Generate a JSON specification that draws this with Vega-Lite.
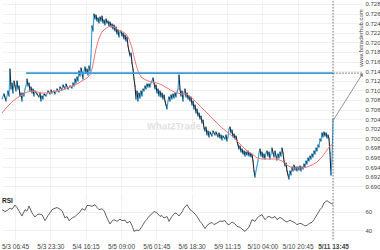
{
  "$schema": "https://vega.github.io/schema/vega-lite/v6.json",
  "padding": 0,
  "background": "white",
  "spacing": 0,
  "config": {
    "view": {"stroke": null},
    "font": "Liberation Sans",
    "axis": {"gridColor": "#ececec", "gridWidth": 0.8, "labelFont": "Liberation Sans", "domain": false, "ticks": false, "labelFontSize": 6.5, "labelColor": "#444"}
  },
  "datasets": {
    "price": [
      {"i":0,"p":0.70821},{"i":2,"p":0.70925},{"i":4,"p":0.70779},{"i":6,"p":0.70988},{"i":7,"p":0.70883},{"i":8,"p":0.71446},{"i":9,"p":0.71029},{"i":10,"p":0.71154},{"i":11,"p":0.70946},{"i":12,"p":0.71196},{"i":13,"p":0.71092},{"i":14,"p":0.70988},{"i":15,"p":0.71196},{"i":16,"p":0.71029},{"i":17,"p":0.71092},{"i":18,"p":0.70883},{"i":19,"p":0.70946},{"i":20,"p":0.70779},{"i":21,"p":0.70946},{"i":22,"p":0.70883},{"i":23,"p":0.71029},{"i":24,"p":0.71092},{"i":25,"p":0.71238},{"i":26,"p":0.71092},{"i":27,"p":0.71154},{"i":28,"p":0.70988},{"i":29,"p":0.71071},{"i":30,"p":0.70946},{"i":31,"p":0.71029},{"i":32,"p":0.70883},{"i":33,"p":0.70988},{"i":35,"p":0.70925},{"i":37,"p":0.70863},{"i":38,"p":0.70946},{"i":39,"p":0.70779},{"i":40,"p":0.70883},{"i":41,"p":0.70821},{"i":42,"p":0.70925},{"i":44,"p":0.70883},{"i":46,"p":0.70988},{"i":48,"p":0.70925},{"i":49,"p":0.71008},{"i":50,"p":0.70946},{"i":52,"p":0.70988},{"i":53,"p":0.70925},{"i":55,"p":0.71029},{"i":57,"p":0.70967},{"i":58,"p":0.71071},{"i":60,"p":0.71008},{"i":61,"p":0.71113},{"i":63,"p":0.71029},{"i":64,"p":0.71133},{"i":66,"p":0.71029},{"i":68,"p":0.71092},{"i":70,"p":0.71050},{"i":71,"p":0.71154},{"i":72,"p":0.71092},{"i":73,"p":0.71238},{"i":74,"p":0.71154},{"i":75,"p":0.71279},{"i":76,"p":0.71196},{"i":77,"p":0.71404},{"i":78,"p":0.71300},{"i":79,"p":0.71467},{"i":80,"p":0.71363},{"i":81,"p":0.71238},{"i":82,"p":0.71404},{"i":83,"p":0.71488},{"i":84,"p":0.71363},{"i":85,"p":0.71446},{"i":86,"p":0.71321},{"i":87,"p":0.71508},{"i":88,"p":0.71404},{"i":89,"p":0.71717},{"i":90,"p":0.72342},{"i":91,"p":0.72238},{"i":92,"p":0.72592},
      {"i":93,"p":0.72488},{"i":94,"p":0.72571},{"i":95,"p":0.72446},{"i":96,"p":0.72508},{"i":97,"p":0.72404},{"i":98,"p":0.72529},{"i":99,"p":0.72446},{"i":100,"p":0.72550},{"i":101,"p":0.72404},{"i":102,"p":0.72467},{"i":103,"p":0.72363},{"i":104,"p":0.72488},{"i":105,"p":0.72404},{"i":106,"p":0.72446},{"i":107,"p":0.72342},{"i":108,"p":0.72425},{"i":109,"p":0.72321},{"i":110,"p":0.72383},{"i":111,"p":0.72279},{"i":112,"p":0.72363},{"i":113,"p":0.72238},{"i":114,"p":0.72321},{"i":115,"p":0.72175},{"i":116,"p":0.72258},{"i":117,"p":0.72113},{"i":118,"p":0.72217},{"i":119,"p":0.72238},{"i":120,"p":0.72133},{"i":121,"p":0.72196},{"i":122,"p":0.72071},{"i":123,"p":0.72154},{"i":124,"p":0.72029},{"i":125,"p":0.72113},{"i":126,"p":0.71925},{"i":127,"p":0.71821},{"i":128,"p":0.71717},{"i":129,"p":0.71779},{"i":130,"p":0.71571},{"i":131,"p":0.71446},{"i":132,"p":0.71238},{"i":133,"p":0.71092},{"i":134,"p":0.70821},{"i":135,"p":0.70988},{"i":136,"p":0.70779},{"i":137,"p":0.70946},{"i":138,"p":0.70842},{"i":139,"p":0.70988},{"i":140,"p":0.70883},{"i":141,"p":0.71029},{"i":142,"p":0.70988},{"i":143,"p":0.71092},{"i":144,"p":0.71029},{"i":145,"p":0.71133},{"i":146,"p":0.71071},{"i":147,"p":0.71133},{"i":148,"p":0.71071},{"i":149,"p":0.71154},{"i":150,"p":0.71196},{"i":151,"p":0.71258},{"i":152,"p":0.71154},{"i":153,"p":0.71029},{"i":154,"p":0.71113},{"i":155,"p":0.70946},{"i":156,"p":0.71029},{"i":157,"p":0.70883},{"i":158,"p":0.70988},{"i":159,"p":0.70863},{"i":160,"p":0.70946},{"i":161,"p":0.70821},{"i":162,"p":0.70904},{"i":163,"p":0.70779},{"i":164,"p":0.70696},{"i":165,"p":0.70613},{"i":166,"p":0.70779},{"i":167,"p":0.70863},{"i":168,"p":0.70779},{"i":169,"p":0.70904},{"i":170,"p":0.70821},{"i":171,"p":0.70925},{"i":172,"p":0.70842},{"i":173,"p":0.70946},{"i":174,"p":0.70863},{"i":175,"p":0.70967},{"i":176,"p":0.71029},{"i":177,"p":0.71321},{"i":178,"p":0.71029},{"i":179,"p":0.70883},{"i":180,"p":0.70988},{"i":181,"p":0.70779},{"i":182,"p":0.70946},{"i":183,"p":0.71029},{"i":184,"p":0.70863},{"i":185,"p":0.70946},{"i":186,"p":0.70821},{"i":187,"p":0.70883},
      {"i":188,"p":0.70779},{"i":189,"p":0.70863},{"i":190,"p":0.70696},{"i":191,"p":0.70779},{"i":192,"p":0.70613},{"i":193,"p":0.70696},{"i":194,"p":0.70529},{"i":195,"p":0.70613},{"i":196,"p":0.70467},{"i":197,"p":0.70529},{"i":198,"p":0.70404},{"i":199,"p":0.70467},{"i":200,"p":0.70321},{"i":201,"p":0.70383},{"i":202,"p":0.70217},{"i":203,"p":0.70154},{"i":204,"p":0.70238},{"i":205,"p":0.70071},{"i":206,"p":0.70154},{"i":207,"p":0.70029},{"i":208,"p":0.70133},{"i":210,"p":0.70050},{"i":211,"p":0.70154},{"i":213,"p":0.70071},{"i":214,"p":0.70133},{"i":216,"p":0.70029},{"i":217,"p":0.70113},{"i":218,"p":0.70008},{"i":219,"p":0.70071},{"i":220,"p":0.69967},{"i":221,"p":0.70050},{"i":223,"p":0.69988},{"i":224,"p":0.70071},{"i":225,"p":0.69946},{"i":226,"p":0.70029},{"i":227,"p":0.70196},{"i":228,"p":0.70238},{"i":229,"p":0.70113},{"i":230,"p":0.70175},{"i":231,"p":0.70029},{"i":232,"p":0.70092},{"i":233,"p":0.69988},{"i":234,"p":0.70050},{"i":235,"p":0.69946},{"i":236,"p":0.69863},{"i":237,"p":0.69779},{"i":238,"p":0.69842},{"i":239,"p":0.69717},{"i":240,"p":0.69779},{"i":241,"p":0.69675},{"i":242,"p":0.69738},{"i":243,"p":0.69633},{"i":244,"p":0.69717},{"i":245,"p":0.69654},{"i":246,"p":0.69738},{"i":247,"p":0.69633},{"i":248,"p":0.69696},{"i":249,"p":0.69613},{"i":250,"p":0.69675},{"i":251,"p":0.69529},{"i":252,"p":0.69321},{"i":253,"p":0.69196},{"i":254,"p":0.69321},{"i":255,"p":0.69425},{"i":256,"p":0.69529},{"i":257,"p":0.69696},{"i":258,"p":0.69779},
      {"i":259,"p":0.69633},{"i":260,"p":0.69717},{"i":261,"p":0.69592},{"i":262,"p":0.69675},{"i":263,"p":0.69571},{"i":264,"p":0.69696},{"i":265,"p":0.69738},{"i":266,"p":0.69633},{"i":267,"p":0.69717},{"i":268,"p":0.69571},{"i":269,"p":0.69675},{"i":270,"p":0.69800},{"i":271,"p":0.69696},{"i":272,"p":0.69613},{"i":273,"p":0.69738},{"i":274,"p":0.69633},{"i":275,"p":0.69550},{"i":276,"p":0.69675},{"i":277,"p":0.69592},{"i":278,"p":0.69717},{"i":279,"p":0.69633},{"i":280,"p":0.69800},{"i":281,"p":0.69696},{"i":282,"p":0.69529},{"i":283,"p":0.69425},{"i":284,"p":0.69488},{"i":285,"p":0.69321},{"i":286,"p":0.69238},{"i":287,"p":0.69154},{"i":288,"p":0.69321},{"i":289,"p":0.69238},{"i":290,"p":0.69404},{"i":291,"p":0.69321},{"i":292,"p":0.69446},{"i":293,"p":0.69342},{"i":294,"p":0.69404},{"i":295,"p":0.69321},{"i":296,"p":0.69404},{"i":297,"p":0.69342},{"i":298,"p":0.69425},{"i":299,"p":0.69321},{"i":300,"p":0.69404},{"i":301,"p":0.69363},{"i":302,"p":0.69467},{"i":303,"p":0.69404},{"i":304,"p":0.69529},{"i":305,"p":0.69467},{"i":306,"p":0.69592},{"i":307,"p":0.69529},{"i":308,"p":0.69633},{"i":309,"p":0.69571},{"i":310,"p":0.69675},{"i":311,"p":0.69613},{"i":312,"p":0.69738},{"i":313,"p":0.69675},{"i":314,"p":0.69800},{"i":315,"p":0.69738},{"i":316,"p":0.69863},{"i":317,"p":0.69821},{"i":318,"p":0.69988},{"i":319,"p":0.69946},{"i":320,"p":0.70113},{"i":321,"p":0.70029},{"i":322,"p":0.70133},{"i":323,"p":0.70050},{"i":324,"p":0.70113},{"i":325,"p":0.70008},{"i":326,"p":0.70071},{"i":327,"p":0.69988},{"i":328,"p":0.69696},{"i":329,"p":0.69238},{"i":330,"p":0.69529},{"i":331,"p":0.70404}
    ],
    "ma": [
      {"i":0,"p":0.70529},{"i":5,"p":0.70654},{"i":10,"p":0.70758},{"i":15,"p":0.70842},{"i":20,"p":0.70904},{"i":25,"p":0.70967},{"i":30,"p":0.70988},{"i":35,"p":0.70967},{"i":40,"p":0.70946},{"i":45,"p":0.70946},{"i":50,"p":0.70967},{"i":55,"p":0.70988},{"i":60,"p":0.71008},{"i":65,"p":0.71050},{"i":70,"p":0.71092},{"i":75,"p":0.71133},{"i":80,"p":0.71196},{"i":85,"p":0.71258},{"i":88,"p":0.71321},{"i":90,"p":0.71446},{"i":92,"p":0.71654},{"i":94,"p":0.71863},{"i":96,"p":0.72029},{"i":98,"p":0.72133},{"i":100,"p":0.72217},{"i":103,"p":0.72279},{"i":106,"p":0.72321},{"i":109,"p":0.72342},{"i":112,"p":0.72321},{"i":115,"p":0.72279},{"i":118,"p":0.72238},{"i":121,"p":0.72217},{"i":124,"p":0.72175},{"i":127,"p":0.72071},{"i":130,"p":0.71883},{"i":133,"p":0.71613},{"i":136,"p":0.71404},{"i":139,"p":0.71279},{"i":142,"p":0.71238},{"i":146,"p":0.71196},{"i":150,"p":0.71175},{"i":155,"p":0.71154},{"i":160,"p":0.71113},{"i":165,"p":0.71050},{"i":170,"p":0.70988},{"i":175,"p":0.70946},{"i":180,"p":0.70925},{"i":185,"p":0.70925},{"i":190,"p":0.70842},{"i":195,"p":0.70738},{"i":200,"p":0.70633},{"i":205,"p":0.70529},{"i":210,"p":0.70425},{"i":215,"p":0.70321},{"i":220,"p":0.70217},{"i":225,"p":0.70133},{"i":230,"p":0.70050},{"i":235,"p":0.69946},{"i":240,"p":0.69842},{"i":245,"p":0.69738},{"i":250,"p":0.69675},{"i":255,"p":0.69592},{"i":260,"p":0.69571},{"i":265,"p":0.69571},{"i":270,"p":0.69571},{"i":275,"p":0.69571},{"i":280,"p":0.69529},{"i":285,"p":0.69446},{"i":290,"p":0.69383},{"i":295,"p":0.69383},{"i":300,"p":0.69383},{"i":305,"p":0.69404},{"i":310,"p":0.69446},{"i":315,"p":0.69508},{"i":320,"p":0.69613},{"i":325,"p":0.69758},{"i":328,"p":0.69842},{"i":331,"p":0.69883}
    ],
    "rsi": [
      {"i":0,"r":62.6},{"i":3,"r":60.5},{"i":5,"r":61.5},{"i":8,"r":64.4},{"i":10,"r":63},{"i":13,"r":67.6},{"i":15,"r":65},{"i":17,"r":61},{"i":20,"r":55.5},{"i":23,"r":62.6},{"i":25,"r":61},{"i":27,"r":66.6},{"i":30,"r":59},{"i":33,"r":54.4},{"i":35,"r":57},{"i":37,"r":57.7},{"i":40,"r":57},{"i":43,"r":50.4},{"i":46,"r":56},{"i":48,"r":59},{"i":50,"r":62.5},{"i":52,"r":63.7},{"i":55,"r":65},{"i":57,"r":63.7},{"i":60,"r":61.5},{"i":63,"r":53.3},{"i":65,"r":55},{"i":67,"r":50.4},{"i":70,"r":53.3},{"i":73,"r":55},{"i":75,"r":57},{"i":78,"r":60},{"i":80,"r":63.7},{"i":83,"r":62},{"i":85,"r":67.4},{"i":88,"r":67},{"i":90,"r":66.3},{"i":93,"r":68.1},{"i":95,"r":65},{"i":97,"r":62.6},{"i":100,"r":63.5},{"i":102,"r":61.5},{"i":105,"r":53.3},{"i":108,"r":46.7},{"i":110,"r":50},{"i":112,"r":51.5},{"i":115,"r":49.6},{"i":118,"r":52},{"i":120,"r":50.4},{"i":123,"r":51},{"i":125,"r":47.8},{"i":128,"r":49.6},{"i":130,"r":45},{"i":132,"r":38.5},{"i":135,"r":40},{"i":137,"r":39.2},{"i":140,"r":44.1},{"i":143,"r":49.6},{"i":145,"r":52},{"i":147,"r":55.2},{"i":150,"r":58},{"i":152,"r":60.7},{"i":155,"r":59},{"i":158,"r":55.2},{"i":160,"r":56},{"i":162,"r":53.3},{"i":165,"r":55},{"i":167,"r":49.6},{"i":170,"r":55.2},{"i":173,"r":59},{"i":175,"r":58},{"i":177,"r":55.5},{"i":180,"r":60},{"i":182,"r":64.4},{"i":185,"r":68.1},{"i":188,"r":62.6},{"i":190,"r":61},{"i":193,"r":57.8},{"i":195,"r":55},{"i":198,"r":49.6},{"i":200,"r":47},{"i":203,"r":41.5},{"i":205,"r":45},{"i":207,"r":46.7},{"i":210,"r":48.5},{"i":212,"r":46},{"i":215,"r":47.8},{"i":218,"r":50},{"i":220,"r":49.6},{"i":223,"r":50.4},{"i":225,"r":47},{"i":227,"r":45.9},{"i":230,"r":48.9},{"i":233,"r":46.7},{"i":235,"r":44},{"i":238,"r":43},{"i":240,"r":41},{"i":243,"r":38.5},{"i":245,"r":41},{"i":247,"r":43},{"i":250,"r":51.5},{"i":253,"r":49.6},{"i":255,"r":53},{"i":257,"r":55.2},{"i":260,"r":57},{"i":263,"r":51.5},{"i":265,"r":54},{"i":267,"r":55.2},{"i":270,"r":53.3},{"i":273,"r":55},{"i":275,"r":51.5},{"i":278,"r":54},{"i":280,"r":52.6},{"i":283,"r":50},{"i":285,"r":48.9},{"i":288,"r":51},{"i":290,"r":49.6},{"i":293,"r":48},{"i":295,"r":45.9},{"i":298,"r":47.5},{"i":300,"r":46.7},{"i":303,"r":44.5},{"i":305,"r":45.2},{"i":308,"r":47.8},{"i":310,"r":48.5},{"i":312,"r":51.5},{"i":315,"r":57},{"i":318,"r":62.6},{"i":320,"r":65},{"i":322,"r":70},{"i":325,"r":72.6},{"i":327,"r":71},{"i":330,"r":68.9},{"i":331,"r":69}
    ]
  },
  "vconcat": [
    {
      "width": 361,
      "height": 190,
      "layer": [
        {
          "data": {"name": "price"},
          "transform": [
            {"window": [{"op": "lead", "field": "p", "as": "p2"}, {"op": "lead", "field": "i", "as": "i2"}], "sort": [{"field": "i", "order": "ascending"}]},
            {"filter": "datum.p2 != null"}
          ],
          "mark": {"type": "rule", "strokeWidth": 1.1, "strokeCap": "round"},
          "encoding": {
            "x": {"field": "i", "type": "quantitative", "scale": {"domain": [0, 361], "nice": false, "zero": false},
                  "axis": {"values": [13, 48.33, 83.67, 119, 154.33, 189.67, 225, 260.33, 295.67, 331], "tickCount": 50, "labels": false, "grid": true, "title": null}},
            "x2": {"field": "i2"},
            "y": {"field": "p", "type": "quantitative", "scale": {"domain": [0.68904, 0.728625], "nice": false, "zero": false},
                  "axis": {"orient": "right", "values": [0.690, 0.692, 0.694, 0.696, 0.698, 0.700, 0.702, 0.704, 0.706, 0.708, 0.710, 0.712, 0.714, 0.716, 0.718, 0.720, 0.722, 0.724, 0.726, 0.728], "tickCount": 50, "format": ".3f", "labelPadding": 2, "labelFontSize": 6, "labelOverlap": false, "labelBound": false, "labelFlush": false, "grid": true, "title": null}},
            "y2": {"field": "p2"},
            "color": {"condition": {"test": "datum.p2 < datum.p", "value": "#1c2630"}, "value": "#2e9ddc"}
          }
        },
        {
          "data": {"name": "ma"},
          "mark": {"type": "line", "color": "#f47575", "strokeWidth": 1},
          "encoding": {
            "x": {"field": "i", "type": "quantitative"},
            "y": {"field": "p", "type": "quantitative"}
          }
        },
        {
          "data": {"values": [{"i": 24, "i2": 331, "p": 0.7136}]},
          "mark": {"type": "rule", "color": "#3d9ad9", "strokeWidth": 1.6},
          "encoding": {
            "x": {"field": "i", "type": "quantitative"},
            "x2": {"field": "i2"},
            "y": {"field": "p", "type": "quantitative"}
          }
        },
        {
          "data": {"values": [{"i": 331, "i2": 361, "p": 0.7136}]},
          "mark": {"type": "rule", "color": "#666", "strokeWidth": 0.8, "strokeDash": [2, 1]},
          "encoding": {
            "x": {"field": "i", "type": "quantitative"},
            "x2": {"field": "i2"},
            "y": {"field": "p", "type": "quantitative"}
          }
        },
        {
          "data": {"values": [{"i": 331, "p": 0.7037, "i2": 360, "p2": 0.7133}]},
          "mark": {"type": "rule", "color": "#777", "strokeWidth": 0.8},
          "encoding": {
            "x": {"field": "i", "type": "quantitative"},
            "x2": {"field": "i2"},
            "y": {"field": "p", "type": "quantitative"},
            "y2": {"field": "p2"}
          }
        },
        {
          "data": {"values": [{"i": 360, "p": 0.7133}]},
          "mark": {"type": "point", "shape": "triangle-up", "filled": true, "color": "#777", "size": 14, "angle": 33, "opacity": 1},
          "encoding": {
            "x": {"field": "i", "type": "quantitative"},
            "y": {"field": "p", "type": "quantitative"}
          }
        },
        {
          "data": {"values": [{"i": 331}]},
          "mark": {"type": "rule", "color": "#555", "strokeWidth": 0.8, "strokeDash": [1.5, 1.5]},
          "encoding": {
            "x": {"field": "i", "type": "quantitative"}
          }
        },
        {
          "data": {"values": [{"i": 172, "p": 0.70258, "t": "What2Trade"}]},
          "mark": {"type": "text", "fontSize": 9.5, "fontWeight": "bold", "color": "#e2e2e2", "align": "center", "baseline": "middle"},
          "encoding": {
            "x": {"field": "i", "type": "quantitative"},
            "y": {"field": "p", "type": "quantitative"},
            "text": {"field": "t"}
          }
        },
        {
          "data": {"values": [{"i": 359, "p": 0.72092, "t": "www.fxtraderhub.com"}]},
          "mark": {"type": "text", "fontSize": 6, "color": "#444", "angle": 270, "align": "center", "baseline": "middle"},
          "encoding": {
            "x": {"field": "i", "type": "quantitative"},
            "y": {"field": "p", "type": "quantitative"},
            "text": {"field": "t"}
          }
        }
      ]
    },
    {
      "width": 361,
      "height": 47,
      "layer": [
        {
          "data": {"name": "rsi"},
          "mark": {"type": "line", "color": "#3a3a3a", "strokeWidth": 0.8},
          "encoding": {
            "x": {"field": "i", "type": "quantitative", "scale": {"domain": [0, 361], "nice": false, "zero": false},
                  "axis": {"values": [13, 48.33, 83.67, 119, 154.33, 189.67, 225, 260.33, 295.67, 331], "tickCount": 50,
                           "labelExpr": "['5/3 06:45','5/3 23:30','5/4 16:15','5/5 09:00','5/6 01:45','5/6 18:30','5/9 11:15','5/10 04:00','5/10 20:45','5/11 13:45'][round((datum.value-13)/35.333)]",
                           "labelPadding": 3, "labelOverlap": false, "grid": true, "title": null,
                           "labelFontWeight": {"condition": {"test": "datum.value > 330", "value": "bold"}, "value": "normal"}}},
            "y": {"field": "r", "type": "quantitative", "scale": {"domain": [28.9, 81.1], "nice": false, "zero": false},
                  "axis": {"orient": "right", "values": [40, 60], "tickCount": 10, "labelPadding": 2, "labelFontSize": 6, "labelOverlap": false, "grid": true, "title": null}}
          }
        },
        {
          "data": {"values": [{"i": 331}]},
          "mark": {"type": "rule", "color": "#555", "strokeWidth": 0.8, "strokeDash": [1.5, 1.5]},
          "encoding": {
            "x": {"field": "i", "type": "quantitative"}
          }
        },
        {
          "data": {"values": [{"i": 0, "r": 72.5, "t": "RSI"}]},
          "mark": {"type": "text", "fontSize": 6.5, "fontWeight": "bold", "color": "#222", "align": "left", "baseline": "middle"},
          "encoding": {
            "x": {"field": "i", "type": "quantitative"},
            "y": {"field": "r", "type": "quantitative"},
            "text": {"field": "t"}
          }
        }
      ]
    }
  ]
}
